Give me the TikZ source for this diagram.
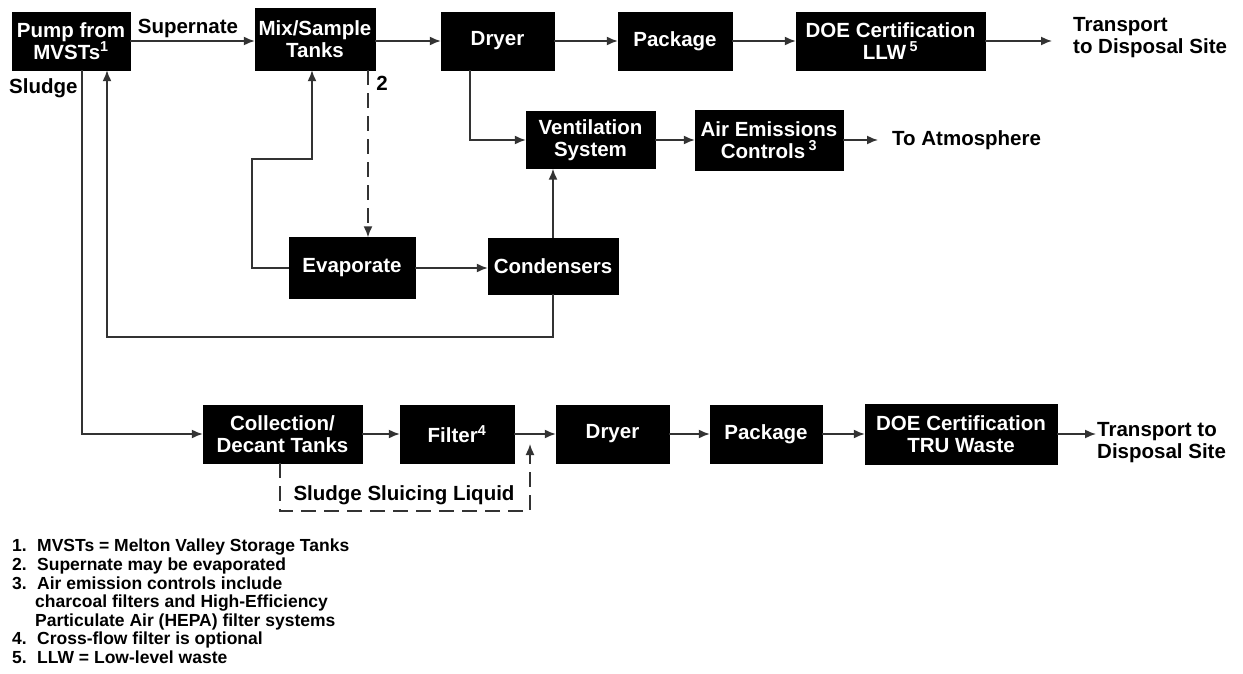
\documentclass[tikz,border=0pt]{standalone}
\usepackage{fontspec}
\setmainfont{Liberation Sans}
\usetikzlibrary{arrows.meta}
\tikzset{
  blk/.style={fill=black, draw=black, text=white, align=center, inner sep=0pt,
    font=\fontsize{20.5}{22}\selectfont\bfseries},
  lbl/.style={text=black, inner sep=0pt, font=\fontsize{20.5}{22}\selectfont\bfseries},
  conn/.style={draw=black!80, line width=1.6pt},
  arr/.style={conn, -{Latex[length=11pt,width=9pt]}},
  dsh/.style={arr, dash pattern=on 15pt off 8pt}
}
\begin{document}
\begin{tikzpicture}[x=1pt,y=-1pt]
\useasboundingbox (0,0) rectangle (1243,674);
% top row
\node[blk, minimum width=118pt, minimum height=58pt] (pump) at (71,41) {Pump from\\MVSTs\textsuperscript{1}};
\node[blk, minimum width=120pt, minimum height=62pt] (mix) at (315,39) {Mix/Sample\\Tanks};
\node[blk, minimum width=113pt, minimum height=58pt] (dry1) at (497.5,41) {Dryer};
\node[blk, minimum width=114pt, minimum height=58pt] (pack1) at (675,41) {Package};
\node[blk, minimum width=189pt, minimum height=58pt] (doe1) at (890.5,41) {DOE Certification\\LLW\,\textsuperscript{5}};
\coordinate (t1) at (1052,41);
\node[lbl, anchor=west, align=left] (tr1) at (1073,38) {Transport\\to Disposal Site};
% middle
\node[blk, minimum width=129pt, minimum height=57pt] (vent) at (590.5,140) {Ventilation\\System};
\node[blk, minimum width=148pt, minimum height=60pt] (air) at (769,140) {Air Emissions\\Controls\,\textsuperscript{3}};
\coordinate (t2) at (878,140);
\node[lbl, anchor=west] (atm) at (892,140) {To Atmosphere};
\node[blk, minimum width=126pt, minimum height=61pt] (evap) at (352,268) {Evaporate};
\node[blk, minimum width=130pt, minimum height=56pt] (cond) at (553,266) {Condensers};
% bottom row
\node[blk, minimum width=159pt, minimum height=58pt] (coll) at (282.5,434) {Collection/\\Decant Tanks};
\node[blk, minimum width=114pt, minimum height=58pt] (filt) at (457,434) {Filter\textsuperscript{4}};
\node[blk, minimum width=113pt, minimum height=58pt] (dry2) at (612.5,434) {Dryer};
\node[blk, minimum width=112pt, minimum height=58pt] (pack2) at (766,434) {Package};
\node[blk, minimum width=192pt, minimum height=60pt] (doe2) at (961,434) {DOE Certification\\TRU Waste};
\coordinate (t3) at (1096,434);
\node[lbl, anchor=west, align=left] (tr2) at (1097,443) {Transport to\\Disposal Site};
% labels
\node[lbl] (sup) at (188,28) {Supernate};
\node[lbl, anchor=west] (sl) at (9,88) {Sludge};
\node[lbl] (two) at (382,83) {2};
\node[lbl] (ssl) at (404,495) {Sludge Sluicing Liquid};
% helper coordinates
\coordinate (xd) at (470,0);
\coordinate (xs) at (82,0);
\coordinate (xr) at (107,0);
\coordinate (xm) at (312,0);
\coordinate (xe) at (368,0);
\coordinate (l1) at (252,159);
\coordinate (l2) at (312,159);
\coordinate (r1) at (107,337);
\coordinate (xc) at (280,0);
\coordinate (s1) at (530,511);
\coordinate (s2) at (530,444);
% connectors top
\draw[arr] (pump.east) -- (mix.west |- pump.east);
\draw[arr] (mix.east |- dry1.west) -- (dry1.west);
\draw[arr] (dry1.east) -- (pack1.west);
\draw[arr] (pack1.east) -- (doe1.west);
\draw[arr] (doe1.east) -- (t1);
\draw[arr] (dry1.south -| xd) |- (vent.west);
\draw[arr] (vent.east) -- (air.west);
\draw[arr] (air.east) -- (t2);
\draw[arr] (cond.north) -- (cond.north |- vent.south);
\draw[arr] (evap.east) -- (evap.east -| cond.west);
\draw[arr] (evap.west) -| (l1) -- (l2) -- (l2 |- mix.south);
\draw[dsh] (mix.south -| xe) -- (evap.north -| xe);
\draw[arr] (cond.south) |- (r1) -- (r1 |- pump.south);
\draw[arr] (pump.south -| xs) |- (coll.west);
% connectors bottom
\draw[arr] (coll.east) -- (filt.west);
\draw[arr] (filt.east) -- (dry2.west);
\draw[arr] (dry2.east) -- (pack2.west);
\draw[arr] (pack2.east) -- (doe2.west);
\draw[arr] (doe2.east |- t3) -- (t3);
\draw[dsh] (coll.south -| xc) |- (s1) -- (s2);
% footnotes
\node[anchor=north west, align=left, inner sep=0pt,
  font=\fontsize{17.5}{18.6}\selectfont\bfseries] (notes) at (12,539) {%
\makebox[25pt][l]{1.}MVSTs = Melton Valley Storage Tanks\\
\makebox[25pt][l]{2.}Supernate may be evaporated\\
\makebox[25pt][l]{3.}Air emission controls include\\
\hspace*{23pt}charcoal filters and High-Efficiency\\
\hspace*{23pt}Particulate Air (HEPA) filter systems\\
\makebox[25pt][l]{4.}Cross-flow filter is optional\\
\makebox[25pt][l]{5.}LLW = Low-level waste};
\end{tikzpicture}
\end{document}
